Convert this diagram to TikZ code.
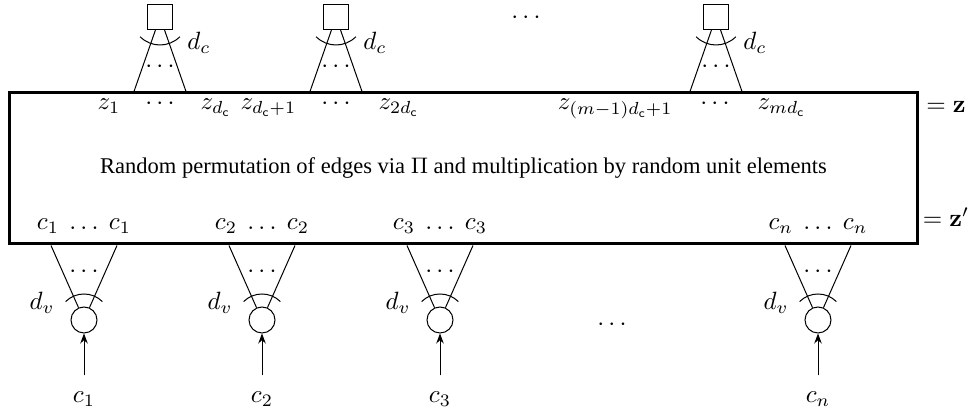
\documentclass[tikz,border=0pt]{standalone}
\usepackage[no-math]{fontspec}
\setmainfont{Liberation Serif}
\usetikzlibrary{calc,arrows.meta}
\begin{document}
\begin{tikzpicture}[x=0.4pt,y=0.4pt,
  chk/.style={draw,rectangle,minimum size=10pt,inner sep=0pt},
  var/.style={draw,circle,minimum size=10.4pt,inner sep=0pt},
  bigbox/.style={draw,line width=1.2pt,minimum width=362.8pt,minimum height=60.4pt,inner sep=0pt,font=\small},
  tx/.style={inner sep=0pt},
  arr/.style={-{Stealth[length=4pt,width=3pt]}},
]
\useasboundingbox (0,0) rectangle (974,418);
\node[bigbox] (box) at (463.5,249.5) {Random permutation of edges via $\Pi$ and multiplication by random unit elements};

\foreach \n/\x in {1/160,2/336,3/716} {
  \node[chk] (ch\n) at (\x,401) {};
  \draw (ch\n) -- ($(ch\n |- box.north)+(-26,0)$);
  \draw (ch\n) -- ($(ch\n |- box.north)+(26,0)$);
  \draw ([shift={(225:11.2pt)}]ch\n.center) arc[start angle=225,end angle=315,radius=11.2pt];
  \node (fd\n) at (\x,351) {$\cdots$};
  \node (dc\n) at (\x+39,375) {$d_c$};
}

\foreach \n/\x/\lab in {1/84/c_1,2/262/c_2,3/440/c_3,4/818/c_n} {
  \node[var] (v\n) at (\x,98) {};
  \draw (v\n) -- ($(v\n |- box.south)+(-33,0)$);
  \draw (v\n) -- ($(v\n |- box.south)+(33,0)$);
  \draw ([shift={(45:10.4pt)}]v\n.center) arc[start angle=45,end angle=135,radius=10.4pt];
  \node (vd\n) at (\x,146) {$\cdots$};
  \node (dv\n) at (\x-42,115) {$d_v$};
  \node (vl\n) at (\x,19) {$\lab$};
  \draw[arr,shorten <=3pt] (vl\n) -- (v\n);
  \node[tx,anchor=base] (cr\n) at (\x,188) {$\lab\ \ldots\ \lab$};
}

\node[tx,anchor=base] (z1) at (109,308) {$z_1$};
\node[tx,anchor=base] (zd1) at (160,308) {$\cdots$};
\node[tx,anchor=base west] (z2) at (200,308) {$z_{d_{\mathsf{c}}}$};
\node[tx,anchor=base west] (z3) at (240,308) {$z_{d_{\mathsf{c}}+1}$};
\node[tx,anchor=base] (zd2) at (336,308) {$\cdots$};
\node[tx,anchor=base west] (z4) at (378,308) {$z_{2d_{\mathsf{c}}}$};
\node[tx,anchor=base east] (z5) at (673,308) {$z_{(m-1)d_{\mathsf{c}}+1}$};
\node[tx,anchor=base] (zd3) at (715,308) {$\cdots$};
\node[tx,anchor=base west] (z6) at (757,308) {$z_{md_{\mathsf{c}}}$};

\node (eqz) at (946,311) {$=\mathbf{z}$};
\node (eqzp) at (946,201) {$=\mathbf{z}'$};
\node (tdots) at (526,400) {$\cdots$};
\node (bdots) at (612,93) {$\cdots$};
\end{tikzpicture}
\end{document}
